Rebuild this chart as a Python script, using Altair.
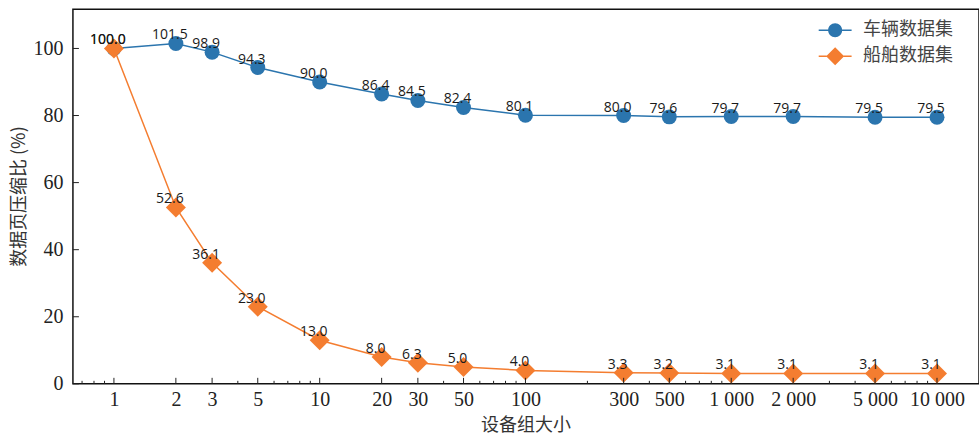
import altair as alt
import pandas as pd

# ---- data ----
sizes = [1, 2, 3, 5, 10, 20, 30, 50, 100, 300, 500, 1000, 2000, 5000, 10000]
vehicle = [100.0, 101.5, 98.9, 94.3, 90.0, 86.4, 84.5, 82.4, 80.1, 80.0, 79.6, 79.7, 79.7, 79.5, 79.5]
ship = [100.0, 52.6, 36.1, 23.0, 13.0, 8.0, 6.3, 5.0, 4.0, 3.3, 3.2, 3.1, 3.1, 3.1, 3.1]
series_names = ["车辆数据集", "船舶数据集"]
x_tick_labels = ["1", "2", "3", "5", "10", "20", "30", "50", "100", "300", "500",
                 "1 000", "2 000", "5 000", "10 000"]
x_minor_ticks = [0.7, 0.8, 0.9, 4, 6, 7, 8, 9, 40, 60, 70, 80, 90, 200, 400, 600, 700,
                 800, 900, 3000, 4000, 6000, 7000, 8000, 9000]
y_ticks = [0, 20, 40, 60, 80, 100]

BLUE = "#2b75ae"
ORANGE = "#f47d30"

df = pd.DataFrame({
    "size": sizes * 2,
    "value": vehicle + ship,
    "series": [series_names[0]] * len(sizes) + [series_names[1]] * len(sizes),
})

label_expr = ""
for v, t in zip(sizes, x_tick_labels):
    label_expr += f"datum.value == {v} ? '{t}' : "
label_expr += "''"

X = alt.X(
    "size:Q",
    scale=alt.Scale(type="log", domain=[0.632, 16000], nice=False),
    axis=alt.Axis(
        values=sizes, labelExpr=label_expr, ticks=False, tickSize=0, domain=False, grid=False,
        labelFont="Liberation Serif", labelFontSize=20, labelColor="#222",
        labelPadding=6, labelOverlap=False, labelFlush=False,
        title="设备组大小", titleFont="Noto Sans CJK SC", titleFontSize=18,
        titleFontWeight="normal", titleColor="#333",
        titleX=453, titleY=42, titleAlign="center", titleBaseline="middle",
    ),
)
Y = alt.Y(
    "value:Q",
    scale=alt.Scale(domain=[0, 111.7], nice=False, zero=False),
    axis=alt.Axis(
        values=y_ticks, ticks=False, tickSize=0, domain=False, grid=False,
        labelFont="Liberation Serif", labelFontSize=20, labelColor="#222",
        labelPadding=10,
        title="数据页压缩比 (%)", titleFont="Noto Sans CJK SC", titleFontSize=18,
        titleFontWeight="normal", titleColor="#333",
        titleX=-53, titleY=187, titleAngle=-90, titleAlign="center", titleBaseline="middle",
    ),
)

base = alt.Chart(df)
veh = base.transform_filter(alt.datum.series == series_names[0])
shp = base.transform_filter(alt.datum.series == series_names[1])

veh_line = veh.mark_line(color=BLUE, strokeWidth=1.5).encode(x=X, y=Y)
shp_line = shp.mark_line(color=ORANGE, strokeWidth=1.5).encode(x=X, y=Y)
veh_pts = veh.mark_point(shape="circle", filled=True, color=BLUE, size=225, opacity=1).encode(x=X, y=Y)
shp_pts = shp.mark_point(shape="diamond", filled=True, color=ORANGE, size=400, opacity=1).encode(x=X, y=Y)

labels = base.mark_text(
    font="Open Sans", fontSize=14, dx=-6, dy=-4, baseline="alphabetic", align="center", color="#1a1a1a"
).encode(x=X, y=Y, text=alt.Text("value:Q", format=".1f"))

major_df = pd.DataFrame({"size": sizes})
minor_df = pd.DataFrame({"size": x_minor_ticks})
ytick_df = pd.DataFrame({"value": y_ticks})

x_major = alt.Chart(major_df).mark_rule(color="#222", strokeWidth=1).encode(
    x=X, y=alt.value(375), y2=alt.value(369))
x_minor = alt.Chart(minor_df).mark_rule(color="#222", strokeWidth=1).encode(
    x=X, y=alt.value(375), y2=alt.value(372))
y_major = alt.Chart(ytick_df).mark_rule(color="#222", strokeWidth=1).encode(
    y=Y, x=alt.value(0), x2=alt.value(6))

# legend symbols: marker with a short line through it
bar = "M-1.83,-0.085L-0.7,-0.085L-0.7,0.085L-1.83,0.085Z M0.7,-0.085L1.83,-0.085L1.83,0.085L0.7,0.085Z "
circ_path = bar + "M-0.78,0A0.78,0.78,0,1,1,0.78,0A0.78,0.78,0,1,1,-0.78,0Z"
diam_path = bar.replace("0.7", "0.95") + "M0,-1L1,0L0,1L-1,0Z"

leg = alt.Legend(
    title=None, orient="none", legendX=754, legendY=12, padding=0,
    labelFont="Noto Sans CJK SC", labelFontSize=18, labelColor="#444",
    labelOffset=19, rowPadding=8, symbolSize=324, symbolStrokeWidth=0,
)
legend_layer = base.transform_filter("false").mark_point(filled=True, opacity=1).encode(
    color=alt.Color("series:N", scale=alt.Scale(domain=series_names, range=[BLUE, ORANGE]), legend=leg),
    shape=alt.Shape("series:N", scale=alt.Scale(domain=series_names, range=[circ_path, diam_path]), legend=leg),
)

chart = alt.layer(
    veh_line, shp_line, veh_pts, shp_pts, labels, x_major, x_minor, y_major, legend_layer
).properties(
    width=907, height=375,
    autosize=alt.AutoSizeParams(type="none"),
    padding={"left": 73, "top": 9, "right": 0, "bottom": 56},
    background="white",
).configure_view(stroke="#111", strokeWidth=1.5)

chart.save("out.html", embed_options={"renderer": "svg", "actions": False})
